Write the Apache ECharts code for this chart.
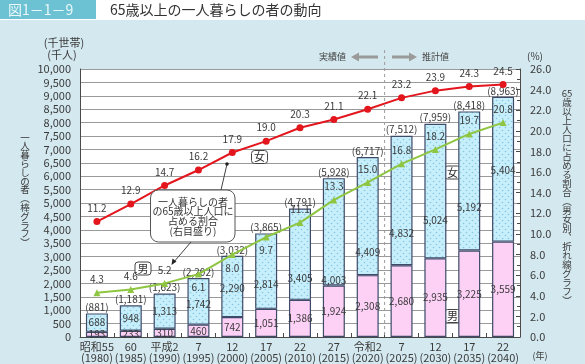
<!DOCTYPE html>
<html><head><meta charset="utf-8">
<script src="https://cdn.jsdelivr.net/npm/echarts@6/dist/echarts.min.js"></script>
<style>html,body{margin:0;padding:0;background:#d4e8ef;} #c{width:585px;height:364px;}</style>
</head><body><div id="c"></div>
<script>
// ---- data ----
const eraLabels = ['昭和55','60','平成2','7','12','17','22','27','令和2','7','12','17','22'];
const yearLabels = ['1980','1985','1990','1995','2000','2005','2010','2015','2020','2025','2030','2035','2040'];
const maleCounts = [193,233,310,460,742,1051,1386,1924,2308,2680,2935,3225,3559];
const femaleCounts = [688,948,1313,1742,2290,2814,3405,4003,4409,4832,5024,5192,5404];
const totalCounts = [881,1181,1623,2202,3032,3865,4791,5928,6717,7512,7959,8418,8963];
const femaleShare = [11.2,12.9,14.7,16.2,17.9,19.0,20.3,21.1,22.1,23.2,23.9,24.3,24.5];
const maleShare = [4.3,4.6,5.2,6.1,8.0,9.7,11.1,13.3,15.0,16.8,18.2,19.7,20.8];

// ---- style ----
const FONT = '"Noto Sans CJK JP","Noto Sans",sans-serif';
const TXT = '#3a3a3a';
const femaleLabelShift = [0,0,0,3,2,13,24,48,36,33,29,26,1];
const maleLabelPos = ['top','top','top','bottom','bottom','bottom','top','top','top','top','top','top','top'];
const fmt = v => v.toLocaleString('en-US');

const cv = document.createElement('canvas'); cv.width = 6; cv.height = 6;
const g = cv.getContext('2d');
g.fillStyle = '#c6eefb'; g.fillRect(0,0,6,6);
g.fillStyle = '#86c8e0';
g.beginPath(); g.arc(1.5,1.5,0.8,0,Math.PI*2); g.fill();
g.beginPath(); g.arc(4.5,4.5,0.8,0,Math.PI*2); g.fill();

const chart = echarts.init(document.getElementById('c'), null, {renderer:'canvas'});
const BORDER = '#3e4a68';

const option = {
  animation:false,
  textStyle:{fontFamily:FONT},
  grid:{left:80, right:65, top:69, bottom:27, show:true, backgroundColor:'#ffffff', borderWidth:0},
  xAxis:{
    type:'category',
    data: eraLabels.map((e,i)=> e + '\n(' + yearLabels[i] + ')'),
    axisLine:{lineStyle:{color:'#4a4a4a', width:1}},
    axisTick:{show:true, inside:true, length:4, lineStyle:{color:'#4a4a4a'}},
    axisLabel:{color:TXT, fontSize:11, lineHeight:11, margin:4, fontFamily:FONT, interval:0}
  },
  yAxis:[
    {type:'value', min:0, max:10000, interval:500,
     axisLine:{show:true, lineStyle:{color:'#4a4a4a'}},
     axisTick:{show:false},
     axisLabel:{color:TXT, fontSize:11, margin:9, formatter:v=>fmt(v), fontFamily:FONT},
     splitLine:{lineStyle:{color:'#9a9a9a', width:1}}},
    {type:'value', min:0, max:26, interval:2, position:'right',
     axisLine:{show:true, lineStyle:{color:'#4a4a4a'}},
     axisTick:{show:true, inside:true, length:4, lineStyle:{color:'#4a4a4a'}},
     minorTick:{show:true, splitNumber:2, length:3, lineStyle:{color:'#4a4a4a'}},
     axisLabel:{color:TXT, fontSize:11, margin:10, formatter:v=>v.toFixed(1), fontFamily:FONT},
     splitLine:{show:false}}
  ],
  series:[
    {name:'男', type:'bar', stack:'n', barWidth:22, barGap:'-100%', yAxisIndex:0,
     data:maleCounts,
     itemStyle:{color:'#fdd0f6', borderColor:BORDER, borderWidth:1.2},
     label:{show:true, position:'inside', color:TXT, fontSize:10, formatter:p=>fmt(p.value)}},
    {name:'女', type:'bar', stack:'n', barWidth:22, barGap:'-100%', yAxisIndex:0,
     data:femaleCounts.map((v,i)=>({value:v, label:{offset:[0,femaleLabelShift[i]]}})),
     itemStyle:{color:{image:cv, repeat:'repeat'}, borderColor:BORDER, borderWidth:1.2},
     label:{show:true, position:'inside', color:TXT, fontSize:10, formatter:p=>fmt(p.value)}},
    {name:'計', type:'bar', barWidth:22, barGap:'-100%', yAxisIndex:0, z:1,
     data:totalCounts,
     itemStyle:{color:'rgba(0,0,0,0)'},
     label:{show:true, position:'top', distance:1, color:TXT, fontSize:10, formatter:p=>'(' + fmt(p.value) + ')'}},
    {name:'女割合', type:'line', yAxisIndex:1, data:femaleShare, z:5,
     symbol:'circle', symbolSize:7,
     lineStyle:{color:'#e3161d', width:2}, itemStyle:{color:'#e3161d'},
     label:{show:true, position:'top', color:TXT, fontSize:10, formatter:p=>p.value.toFixed(1)}},
    {name:'男割合', type:'line', yAxisIndex:1, z:5,
     data:maleShare.map((v,i)=>({value:v, label:{position:maleLabelPos[i]}})),
     symbol:'triangle', symbolSize:7,
     lineStyle:{color:'#8ec641', width:2}, itemStyle:{color:'#8ec641'},
     label:{show:true, color:TXT, fontSize:10, formatter:p=>p.value.toFixed(1)}}
  ]
};
chart.setOption(option);

const x8 = chart.convertToPixel({xAxisIndex:0}, 8);
const x9 = chart.convertToPixel({xAxisIndex:0}, 9);
const xd = (x8 + x9) / 2;

function tagBox(cx, cy, t){
  return {type:'group', z:20, children:[
    {type:'rect', shape:{x:cx-8, y:cy-6.5, width:16, height:13, r:3}, style:{fill:'#fff', stroke:'#444', lineWidth:1}},
    {type:'text', x:cx, y:cy, style:{text:t, fontSize:11, fill:'#333', align:'center', verticalAlign:'middle', fontFamily:FONT}}
  ]};
}

function vText(chars, cx, y0, step, size){
  return chars.map((c,i)=>({type:'text', x:cx, y:y0 + i*step,
    style:{text:c, fontSize:size, fill:TXT, align:'center', verticalAlign:'middle', fontFamily:FONT}}));
}
const leftTitle = ['一','人','暮','ら','し','の','者','︵','棒','グ','ラ','フ','︶'];
const rightTitle = ['65','歳','以','上','人','口','に','占','め','る','割','合','︵','男','女','別','︑','折','れ','線','グ','ラ','フ','︶'];

chart.setOption({graphic:[
  {type:'rect', shape:{x:0,y:0,width:585,height:20}, style:{fill:'#ffffff'}, z:0},
  {type:'rect', shape:{x:0,y:0,width:96,height:19}, style:{fill:'#6cc2d2'}, z:1},
  {type:'text', x:8, y:10, style:{text:'図1－1－9', fontSize:14, fill:'#eaf8fb', verticalAlign:'middle', fontFamily:FONT}, z:2},
  {type:'text', x:110, y:10, style:{text:'65歳以上の一人暮らしの者の動向', fontSize:14, fill:'#333', verticalAlign:'middle', fontFamily:FONT}, z:2},
  {type:'text', x:64, y:43, style:{text:'(千世帯)', fontSize:11, fill:TXT, align:'center', verticalAlign:'middle', fontFamily:FONT}},
  {type:'text', x:62, y:55, style:{text:'(千人)', fontSize:11, fill:TXT, align:'center', verticalAlign:'middle', fontFamily:FONT}},
  {type:'text', x:535, y:56, style:{text:'(%)', fontSize:10, fill:TXT, align:'center', verticalAlign:'middle', fontFamily:FONT}},
  {type:'text', x:540, y:356, style:{text:'(年)', fontSize:9, fill:TXT, align:'center', verticalAlign:'middle', fontFamily:FONT}},
  ...vText(leftTitle, 25, 137, 8.8, 9.5),
  ...vText(rightTitle, 567, 93, 9.0, 9.5),
  // estimate divider
  {type:'line', shape:{x1:xd, y1:50, x2:xd, y2:337}, style:{stroke:'#9a9a9a', lineWidth:1, lineDash:[3,3]}, z:10},
  {type:'text', x:346, y:57, style:{text:'実績値', fontSize:9, fill:'#444', align:'right', verticalAlign:'middle', fontFamily:FONT}},
  {type:'text', x:422, y:57, style:{text:'推計値', fontSize:9, fill:'#444', align:'left', verticalAlign:'middle', fontFamily:FONT}},
  {type:'polygon', shape:{points:[[351,57],[359,52.5],[359,55.5],[378,55.5],[378,58.5],[359,58.5],[359,61.5]]}, style:{fill:'#9a9a9a'}},
  {type:'polygon', shape:{points:[[417,57],[409,52.5],[409,55.5],[392,55.5],[392,58.5],[409,58.5],[409,61.5]]}, style:{fill:'#9a9a9a'}},
  // callout
  {type:'polyline', shape:{points:[[221,190],[227,164]]}, style:{stroke:'#444', lineWidth:1}, z:15},
  {type:'circle', shape:{cx:227, cy:164, r:1.8}, style:{fill:'#222'}, z:15},
  {type:'polyline', shape:{points:[[191,242],[173,263]]}, style:{stroke:'#444', lineWidth:1}, z:15},
  {type:'polygon', shape:{points:[[171.5,265],[172.5,258.5],[176.5,261.5]]}, style:{fill:'#222'}, z:15},
  {type:'rect', shape:{x:150.5, y:190, width:84.5, height:52, r:8}, style:{fill:'#fff', stroke:'#555', lineWidth:1}, z:16},
  {type:'text', x:193, y:216.5, style:{text:'一人暮らしの者\nの65歳以上人口に\n占める割合\n(右目盛り)', fontSize:10, lineHeight:9.8, fill:'#333', align:'center', verticalAlign:'middle', fontFamily:FONT}, z:17},
  tagBox(259.5, 157, '女'),
  tagBox(143, 268.5, '男'),
  tagBox(452.5, 172.5, '女'),
  tagBox(452.5, 316, '男')
]});
</script></body></html>
